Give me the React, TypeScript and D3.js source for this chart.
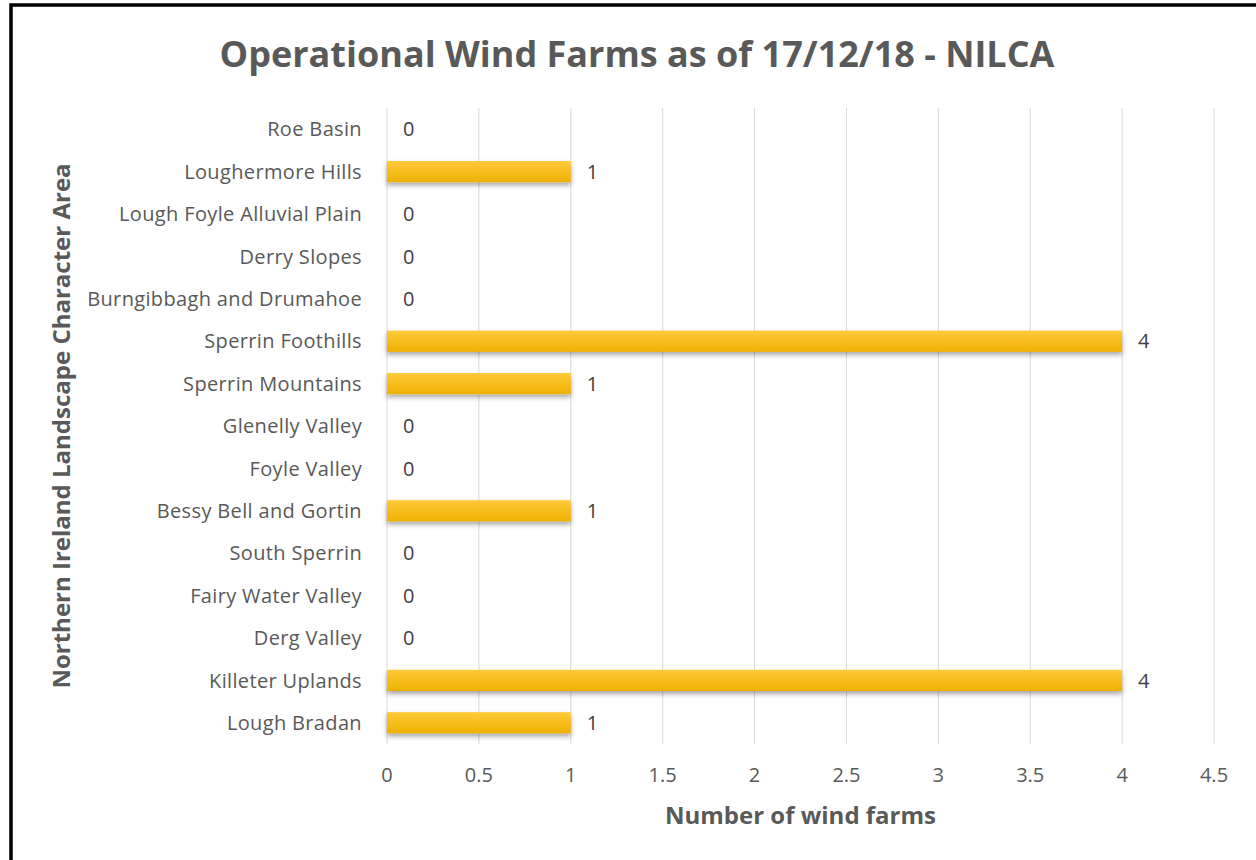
import { useEffect, useRef } from 'react'
import * as d3 from 'd3'

const categories = [
  'Roe Basin',
  'Loughermore Hills',
  'Lough Foyle Alluvial Plain',
  'Derry Slopes',
  'Burngibbagh and Drumahoe',
  'Sperrin Foothills',
  'Sperrin Mountains',
  'Glenelly Valley',
  'Foyle Valley',
  'Bessy Bell and Gortin',
  'South Sperrin',
  'Fairy Water Valley',
  'Derg Valley',
  'Killeter Uplands',
  'Lough Bradan',
]
const windFarms = [0, 1, 0, 0, 0, 4, 1, 0, 0, 1, 0, 0, 0, 4, 1]
const xTicks = [0, 0.5, 1, 1.5, 2, 2.5, 3, 3.5, 4, 4.5]

const FONT = '"Open Sans", Calibri, sans-serif'
const GREY = '#595959'

export default function App() {
  const svgRef = useRef<SVGSVGElement>(null)

  useEffect(() => {
    if (!svgRef.current) return
    const W = 1256
    const H = 860
    const svg = d3.select(svgRef.current)
    svg.selectAll('*').remove()
    svg.attr('width', W).attr('height', H)

    const data = categories.map((c, i) => ({ name: c, value: windFarms[i] }))

    const left = 387
    const right = 1214
    const top = 108
    const bottom = 744

    const x = d3.scaleLinear().domain([0, 4.5]).range([left, right])
    const y = d3.scaleBand().domain(categories).range([top, bottom]).paddingInner(0.5).paddingOuter(0.25)

    // defs: bar gradient + shadow
    const defs = svg.append('defs')
    const grad = defs.append('linearGradient')
      .attr('id', 'barGrad').attr('x1', 0).attr('y1', 0).attr('x2', 0).attr('y2', 1)
    grad.append('stop').attr('offset', '0%').attr('stop-color', '#ffca3c')
    grad.append('stop').attr('offset', '100%').attr('stop-color', '#eeb000')
    const filter = defs.append('filter').attr('id', 'shadow')
      .attr('x', '-5%').attr('y', '-30%').attr('width', '110%').attr('height', '180%')
    filter.append('feDropShadow')
      .attr('dx', 0).attr('dy', 3).attr('stdDeviation', 2.5)
      .attr('flood-color', '#000').attr('flood-opacity', 0.35)

    svg.append('rect').attr('width', W).attr('height', H).attr('fill', '#fff')

    // outer chart border (left and top visible)
    svg.append('rect')
      .attr('x', 11).attr('y', 5)
      .attr('width', W + 20).attr('height', H + 20)
      .attr('fill', 'none').attr('stroke', '#000').attr('stroke-width', 3.5)

    // title
    svg.append('text')
      .attr('x', 637).attr('y', 67)
      .attr('text-anchor', 'middle')
      .attr('font-family', FONT).attr('font-weight', 'bold').attr('font-size', 36)
      .attr('fill', GREY)
      .text('Operational Wind Farms as of 17/12/18 - NILCA')

    // vertical gridlines
    svg.append('g')
      .selectAll('line')
      .data(xTicks)
      .join('line')
      .attr('x1', d => x(d)).attr('x2', d => x(d))
      .attr('y1', top).attr('y2', bottom)
      .attr('stroke', '#d9d9d9').attr('stroke-width', 1)

    // x tick labels
    svg.append('g')
      .selectAll('text')
      .data(xTicks)
      .join('text')
      .attr('x', d => x(d)).attr('y', 782)
      .attr('text-anchor', 'middle')
      .attr('font-family', FONT).attr('font-size', 20)
      .attr('fill', GREY)
      .text(d => String(d))

    // category labels
    svg.append('g')
      .selectAll('text')
      .data(data)
      .join('text')
      .attr('x', 362)
      .attr('y', d => (y(d.name) as number) + y.bandwidth() / 2)
      .attr('dy', '0.36em')
      .attr('text-anchor', 'end')
      .attr('font-family', FONT).attr('font-size', 20)
      .attr('letter-spacing', 0.35)
      .attr('fill', GREY)
      .text(d => d.name)

    // bars
    svg.append('g')
      .selectAll('rect')
      .data(data.filter(d => d.value > 0))
      .join('rect')
      .attr('x', x(0))
      .attr('y', d => y(d.name) as number)
      .attr('width', d => x(d.value) - x(0))
      .attr('height', y.bandwidth())
      .attr('fill', 'url(#barGrad)')
      .attr('filter', 'url(#shadow)')

    // value labels
    svg.append('g')
      .selectAll('text')
      .data(data)
      .join('text')
      .attr('x', d => x(d.value) + 16)
      .attr('y', d => (y(d.name) as number) + y.bandwidth() / 2)
      .attr('dy', '0.36em')
      .attr('font-family', FONT).attr('font-size', 20)
      .attr('fill', '#404040')
      .text(d => String(d.value))

    // axis titles
    svg.append('text')
      .attr('x', (left + right) / 2).attr('y', 824)
      .attr('text-anchor', 'middle')
      .attr('font-family', FONT).attr('font-weight', 'bold').attr('font-size', 24)
      .attr('fill', GREY)
      .text('Number of wind farms')

    svg.append('text')
      .attr('transform', `translate(70, ${(top + bottom) / 2}) rotate(-90)`)
      .attr('text-anchor', 'middle')
      .attr('font-family', FONT).attr('font-weight', 'bold').attr('font-size', 24)
      .attr('fill', GREY)
      .text('Northern Ireland Landscape Character Area')
  }, [])

  return (
    <svg
      ref={svgRef}
      style={{ position: 'absolute', left: 0, top: 0, display: 'block' }}
    />
  )
}
